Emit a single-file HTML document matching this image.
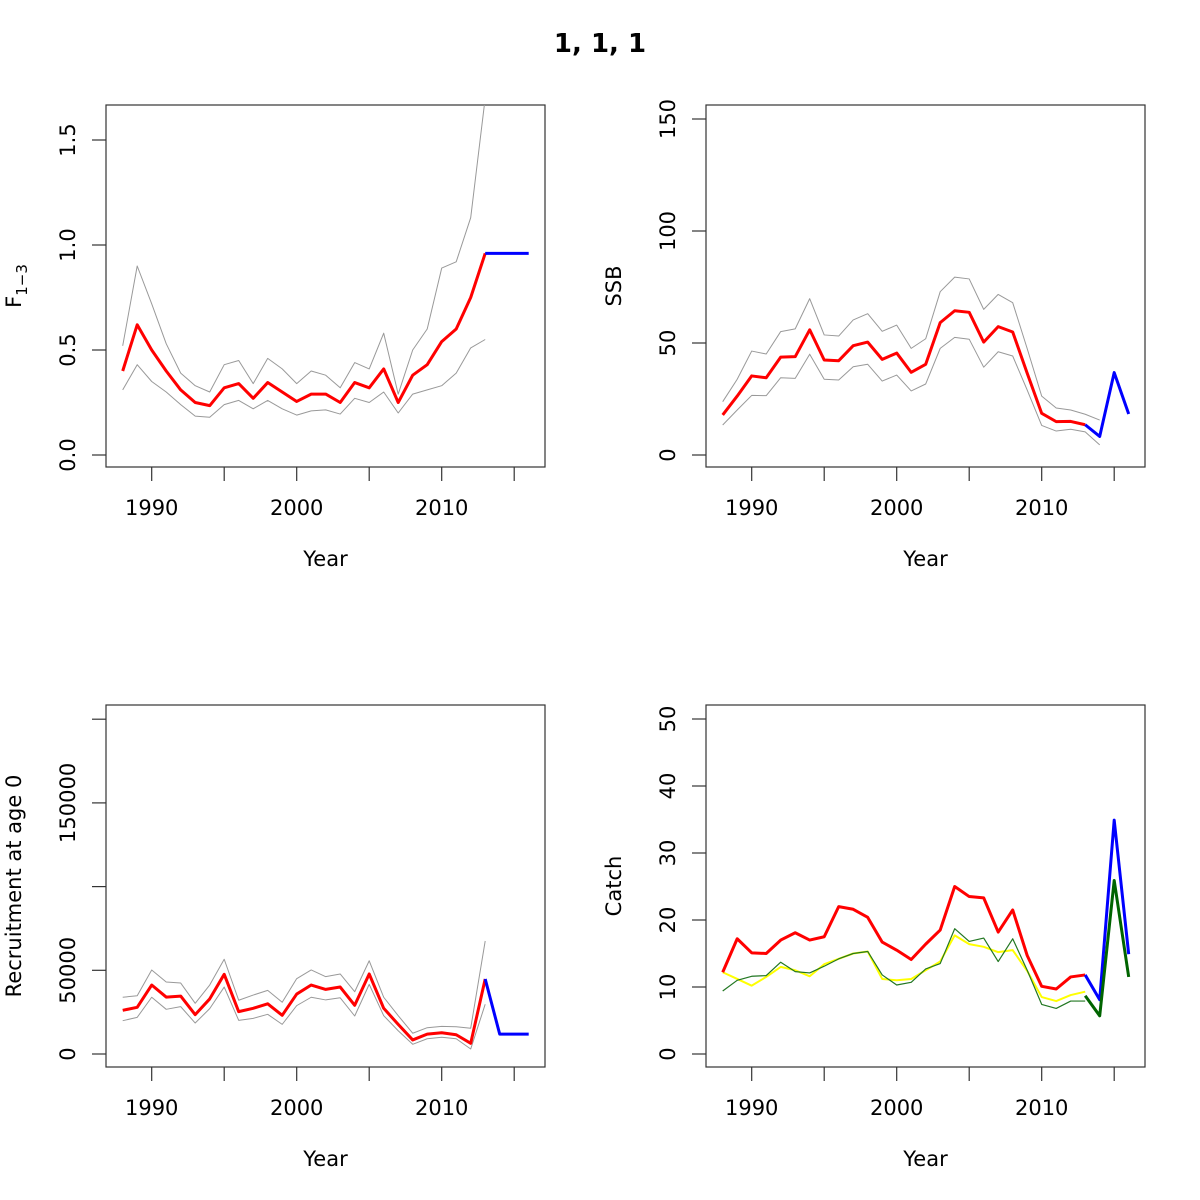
<!DOCTYPE html>
<html><head><meta charset="utf-8">
<style>
body{margin:0;background:#fff;}
svg{display:block;font-family:"DejaVu Sans","Liberation Sans",sans-serif;}
</style></head>
<body>
<svg id="chart" width="1200" height="1200" viewBox="0 0 1200 1200">
<text x="600" y="52" text-anchor="middle" font-size="26" font-weight="bold">1, 1, 1</text>
</svg>
<script>
const years = [1988,1989,1990,1991,1992,1993,1994,1995,1996,1997,1998,1999,2000,2001,2002,2003,2004,2005,2006,2007,2008,2009,2010,2011,2012,2013];
const projYears = [2013,2014,2015,2016];
const xTicks = [1990,1995,2000,2005,2010,2015];
const xTickLabels = ["1990","","2000","","2010",""];

const fMean = [0.40,0.62,0.50,0.40,0.31,0.25,0.235,0.32,0.34,0.27,0.345,0.30,0.255,0.29,0.29,0.25,0.345,0.32,0.41,0.25,0.38,0.43,0.54,0.60,0.75,0.96];
const fUpper = [0.52,0.90,0.72,0.53,0.39,0.33,0.30,0.43,0.45,0.34,0.46,0.41,0.34,0.40,0.38,0.32,0.44,0.41,0.58,0.29,0.50,0.60,0.89,0.92,1.13,1.70];
const fLower = [0.31,0.43,0.35,0.30,0.24,0.185,0.18,0.24,0.26,0.22,0.26,0.22,0.19,0.21,0.215,0.195,0.27,0.25,0.30,0.20,0.29,0.31,0.33,0.39,0.51,0.55];
const fProj = [0.96,0.96,0.96,0.96];
const fTicks = [0,0.5,1.0,1.5];
const fTickLabels = ["0.0","0.5","1.0","1.5"];

const ssbMean = [17.9,26.3,35.3,34.5,43.7,43.9,55.9,42.4,42.1,48.8,50.4,42.7,45.5,36.9,40.5,59.1,64.4,63.7,50.4,57.3,54.9,36.5,18.6,14.9,15.0,13.5];
const ssbUpper = [23.8,33.8,46.4,45.1,55.1,56.3,69.8,53.6,53.1,60.3,63.1,55.2,58.0,47.6,51.9,72.9,79.4,78.6,65.0,71.7,68.0,47.5,26.3,21.0,20.1,18.2,15.6];
const ssbLower = [13.4,20.1,26.6,26.5,34.5,34.2,45.0,33.8,33.5,39.4,40.5,33.0,35.7,28.6,31.7,47.6,52.5,51.7,39.2,46.1,44.2,29.0,13.2,10.7,11.5,10.3,4.5];
const ssbProj = [13.5,8.3,36.8,18.3];
const ssbTicks = [0,50,100,150];
const ssbTickLabels = ["0","50","100","150"];

const recMean = [26100,27900,41200,34000,34600,23500,32900,47600,25300,27300,30000,23100,35800,41200,38600,40000,29100,47800,27300,17700,8400,11900,12700,11500,6400,44800];
const recUpper = [33900,34800,50200,43000,42400,30300,41200,56600,32100,35200,38000,30900,45000,50200,46200,47800,37200,55700,33900,22900,12400,15700,16500,16300,15400,67500];
const recLower = [19900,21900,33900,26700,28300,18500,27100,40000,20100,21300,23700,17700,28900,33900,32300,33600,22700,41600,22900,13900,5800,9100,10000,9100,3000,29700];
const recProj = [44800,11900,11900,11900];
const recTicks = [0,50000,100000,150000,200000];
const recTickLabels = ["0","50000","","150000",""];

const catchPred = [12.2,17.2,15.1,15.0,17.0,18.1,17.0,17.5,22.0,21.6,20.4,16.7,15.5,14.1,16.4,18.5,25.0,23.5,23.3,18.2,21.5,14.7,10.1,9.7,11.5,11.8];
const catchObs = [12.2,11.2,10.2,11.5,13.0,12.5,11.6,13.4,14.2,15.0,15.3,11.2,11.0,11.2,12.5,13.8,17.7,16.4,16.0,15.2,15.5,12.4,8.5,7.9,8.8,9.3];
const landings = [9.4,11.0,11.6,11.7,13.7,12.3,12.1,13.1,14.2,15.0,15.3,11.8,10.3,10.7,12.7,13.5,18.7,16.8,17.3,13.8,17.2,12.5,7.4,6.8,7.9,7.9];
const catchProj = [11.8,8.1,34.9,14.9];
const landProj = [8.7,5.7,25.9,11.5];
const catchTicks = [0,10,20,30,40,50];
const catchTickLabels = ["0","10","20","30","40","50"];

const NS = "http://www.w3.org/2000/svg";
const svg = document.getElementById("chart");
function mk(tag, attrs, parent){const e=document.createElementNS(NS,tag);for(const k in attrs)e.setAttribute(k,attrs[k]);(parent||svg).appendChild(e);return e;}

function panel(cfg){
  const g = mk("g",{});
  
  
  const L=cfg.left, T=cfg.top, W=439, H=362;
  const xs = y => 151.7 + (y-1990)*14.5 + (L-106);
  const ys = v => cfg.y0 - (v - 0)*cfg.k;
  const cid = "clip-"+cfg.name;
  const cp = mk("clipPath",{id:cid},g); mk("rect",{x:L,y:T,width:W,height:H},cp);
  const box = mk("rect",{x:L,y:T,width:W,height:H,fill:"none",stroke:"#333","stroke-width":1.2},g);
  
  
  xTicks.forEach((t,i)=>{
    const tk = mk("line",{x1:xs(t),x2:xs(t),y1:T+H,y2:T+H+14,stroke:"#333","stroke-width":1.2},g);
    
    
    if(xTickLabels[i]){
      const tl = mk("text",{x:xs(t),y:T+H+48,"text-anchor":"middle","font-size":21},g);
      tl.textContent = xTickLabels[i];
      
      
    }
  });
  const xt = mk("text",{x:L+W/2,y:T+H+99,"text-anchor":"middle","font-size":21},g);
  xt.textContent="Year";
  
  
  cfg.ticks.forEach((t,i)=>{
    const yy = ys(t);
    const tk = mk("line",{x1:L-14,x2:L,y1:yy,y2:yy,stroke:"#333","stroke-width":1.2},g);
    
    
    if(cfg.labels[i]){
      const tl = mk("text",{x:0,y:0,"text-anchor":"middle","font-size":21,transform:`translate(${L-31},${yy}) rotate(-90)`},g);
      tl.textContent = cfg.labels[i];
      
      
    }
  });
  const yt = mk("text",{x:0,y:0,"text-anchor":"middle","font-size":21,transform:`translate(${L-85},${cfg.ytY}) rotate(-90)`},g);
  if(cfg.ytitleSub){
    yt.textContent = cfg.ytitle;
    const s = mk("tspan",{"font-size":15,dy:6},yt); s.textContent = cfg.ytitleSub;
  } else yt.textContent = cfg.ytitle;
  
  
  const lg = mk("g",{"clip-path":`url(#${cid})`},g);
  cfg.series.forEach(s=>{
    const pts = s.vals.map((v,i)=>xs(s.x[i])+","+ys(v)).join(" ");
    const p = mk("polyline",{points:pts,fill:"none",stroke:s.color,"stroke-width":s.w,"stroke-linejoin":"round"},lg);
    
    
  });
}
const yrs27 = years.concat([2014]);
panel({name:"f-panel",left:106,top:105,y0:455,k:210,ticks:fTicks,labels:fTickLabels,ytitle:"F",ytitleSub:"1\u22123",ytY:286,
  series:[{name:"f-upper-line",x:years,vals:fUpper,color:"#999",w:1},{name:"f-lower-line",x:years,vals:fLower,color:"#999",w:1},
          {name:"f-mean-line",x:years,vals:fMean,color:"#ff0000",w:3},{name:"f-projection-line",x:projYears,vals:fProj,color:"#0000ff",w:3}]});
panel({name:"ssb-panel",left:706,top:105,y0:455,k:2.24,ticks:ssbTicks,labels:ssbTickLabels,ytitle:"SSB",ytY:286,
  series:[{name:"ssb-upper-line",x:yrs27,vals:ssbUpper,color:"#999",w:1},{name:"ssb-lower-line",x:yrs27,vals:ssbLower,color:"#999",w:1},
          {name:"ssb-mean-line",x:years,vals:ssbMean,color:"#ff0000",w:3},{name:"ssb-projection-line",x:projYears,vals:ssbProj,color:"#0000ff",w:3}]});
panel({name:"recruitment-panel",left:106,top:705,y0:1054,k:0.001674,ticks:recTicks,labels:recTickLabels,ytitle:"Recruitment at age 0",ytY:886,
  series:[{name:"rec-upper-line",x:years,vals:recUpper,color:"#999",w:1},{name:"rec-lower-line",x:years,vals:recLower,color:"#999",w:1},
          {name:"rec-mean-line",x:years,vals:recMean,color:"#ff0000",w:3},{name:"rec-projection-line",x:projYears,vals:recProj,color:"#0000ff",w:3}]});
panel({name:"catch-panel",left:706,top:705,y0:1054,k:6.7,ticks:catchTicks,labels:catchTickLabels,ytitle:"Catch",ytY:886,
  series:[{name:"catch-observed-line",x:years,vals:catchObs,color:"#ffff00",w:2},{name:"landings-line",x:years,vals:landings,color:"#227722",w:1.2},
          {name:"catch-predicted-line",x:years,vals:catchPred,color:"#ff0000",w:3},{name:"catch-projection-line",x:projYears,vals:catchProj,color:"#0000ff",w:3},
          {name:"landings-projection-line",x:projYears,vals:landProj,color:"#006400",w:3}]});
</script>
</body></html>
